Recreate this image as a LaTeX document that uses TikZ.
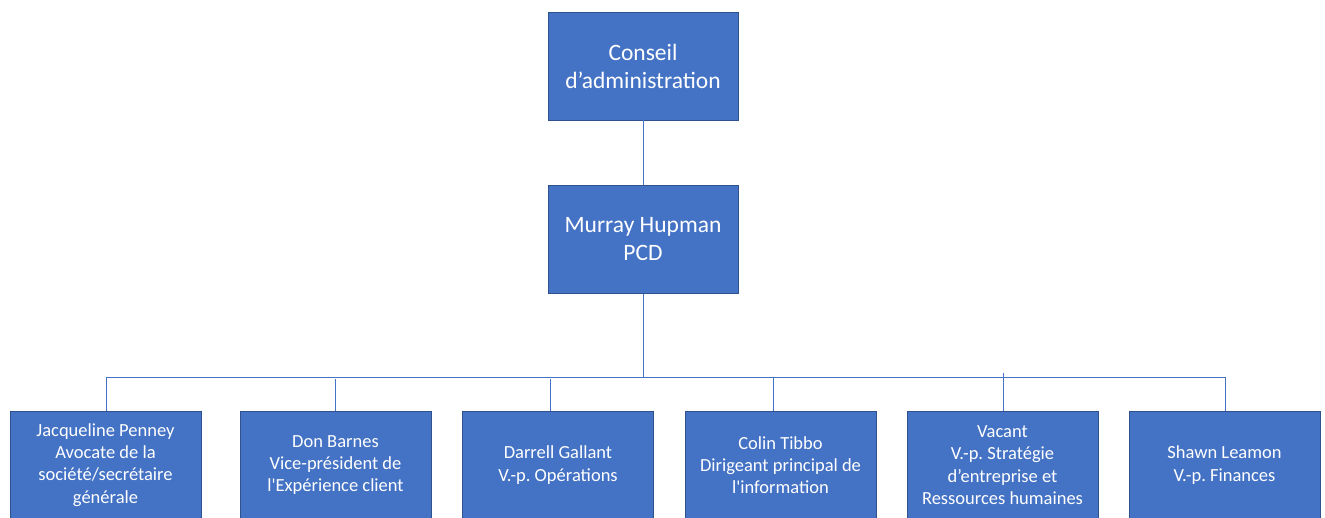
\documentclass[tikz,border=0pt]{standalone}
\usepackage{fontspec}
\setmainfont{Carlito}
\usepackage{xcolor}
\usetikzlibrary{calc, positioning}
\definecolor{orgblue}{HTML}{4472C4}
\definecolor{orgedge}{HTML}{2F528F}
\frenchspacing

\begin{document}
\begin{tikzpicture}[x=1pt,y=-1pt,
    topbox/.style={draw=orgedge,fill=orgblue,text=white,line width=0.8pt,
        minimum width=190pt,minimum height=108pt,inner sep=2pt,align=center,
        font=\fontsize{23.5}{28}\selectfont},
    vpbox/.style={draw=orgedge,fill=orgblue,text=white,line width=0.8pt,
        minimum width=191pt,minimum height=108pt,inner sep=2pt,align=center,
        font=\fontsize{18.5}{22.3}\selectfont},
    link/.style={draw=orgblue,line width=0.9pt}]
\useasboundingbox (0,0) rectangle (1325,517);

% Board and chief executive
\node[topbox] (board) at (643,66) {Conseil\\d’administration};
\node[topbox] (ceo) at (643,239.5) {Murray Hupman\\PCD};

% Vice-presidents
\node[vpbox] (vp1) at (105.5,465) {Jacqueline Penney\\Avocate de la\\société/secrétaire\\générale};
\node[vpbox] (vp2) at (335.5,465) {Don Barnes\\Vice-président de\\l\textquotesingle Expérience client};
\node[vpbox] (vp3) at (558,465) {Darrell Gallant\\V.-p. Opérations};
\node[vpbox] (vp4) at (780.5,465) {Colin Tibbo\\Dirigeant principal de\\l\textquotesingle information};
\node[vpbox] (vp5) at (1002.5,465) {Vacant\\V.-p. Stratégie\\d’entreprise et\\Ressources humaines};
\node[vpbox] (vp6) at (1224.5,465) {Shawn Leamon\\V.-p. Finances};

% Bus and drop points
\coordinate (busmid) at (643,377);
\coordinate (drop1) at (106,377);
\coordinate (drop2) at (335,379);
\coordinate (drop3) at (550,379);
\coordinate (drop4) at (773,377);
\coordinate (drop5) at (1003,373);
\coordinate (drop6) at (1225,377);

% Connectors
\draw[link] (board.south) -- (ceo.north);
\draw[link] (ceo.south) -- (busmid);
\draw[link] (drop1 |- busmid) -- (drop6 |- busmid);
\foreach \i in {1,...,6}
    \draw[link] (drop\i) -- (drop\i |- vp\i.north);
\end{tikzpicture}
\end{document}
